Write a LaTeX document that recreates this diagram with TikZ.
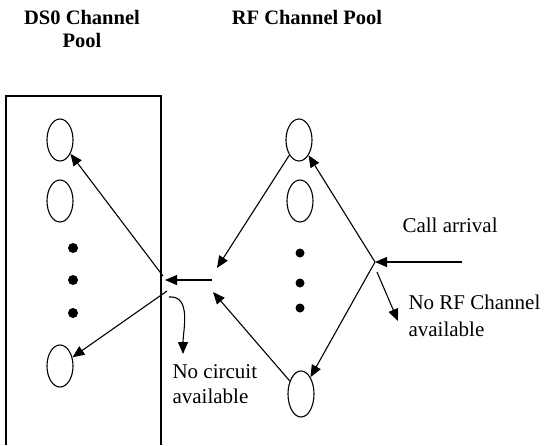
\documentclass[tikz,border=0pt]{standalone}
\usepackage{fontspec}
\setmainfont{Liberation Serif}
\usetikzlibrary{arrows.meta,shapes.geometric}

\begin{document}
\begin{tikzpicture}[x=1pt,y=-1pt,line width=1.1pt,
    chan/.style={draw,ellipse,minimum width=26pt,minimum height=42pt,inner sep=0pt},
    arr/.style={-{Triangle[length=12pt,width=10pt]}},
    lbl/.style={font=\fontsize{21}{25}\selectfont,inner sep=0pt,align=left},
    ttl/.style={font=\fontsize{20.5}{23}\selectfont\bfseries,inner sep=0pt,align=center}]
                \useasboundingbox(0,0)rectangle(546,445);
                \node[ttl](dstitle)at(82,29){DS0 Channel\\Pool};
                \node[ttl](rftitle)at(307,17){RF Channel Pool};
                \draw(6,445)--(6,96)--(161,96)--(161,445);
                \node[chan](l1)at(60,140){};
                \node[chan](l2)at(60,201){};
                \node[chan](l3)at(60,366){};
                \node[chan](r1)at(299,140){};
                \node[chan](r2)at(300,201){};
                \node[chan,minimum height=46pt](r3)at(301,394){};
                \foreach \y in {248,280,313} \fill(73,\y)circle(5pt);
                \foreach \y in {253,283,308} \fill(300,\y)circle(4.5pt);
                \coordinate(jl)at(163,276);
                \coordinate(jlb)at(167,291);
                \coordinate(jlt)at(165,280);
                \coordinate(cv)at(169,297);
                \coordinate(cve)at(183,354);
                \coordinate(jm)at(212,280);
                \coordinate(jmt)at(217,268);
                \coordinate(jmb)at(213,292);
                \coordinate(jr)at(375,262);
                \coordinate(ca)at(462,262);
                \coordinate(jrs)at(377,272);
                \coordinate(nr)at(398,321);
                \draw[arr](jl)--(l1);
                \draw[arr](jlb)--(l3);
                \draw[arr](jm)--(jlt);
                \draw[arr](cv)to[out=5,in=90](cve);
                \draw[arr](r1)--(jmt);
                \draw[arr](r3)--(jmb);
                \draw[arr](ca)--(jr);
                \draw[arr](jr)--(r1);
                \draw[arr](jr)--(r3);
                \draw[arr](jrs)--(nr);
                \node[lbl,anchor=north west](nocirc)at(172,364){No circuit\\available};
                \node[lbl,anchor=north west](callarr)at(402,217){Call arrival};
                \node[lbl,anchor=north west](norf)at(408,294){No RF Channel\\[2pt]available};
            \end{tikzpicture}
\end{document}
